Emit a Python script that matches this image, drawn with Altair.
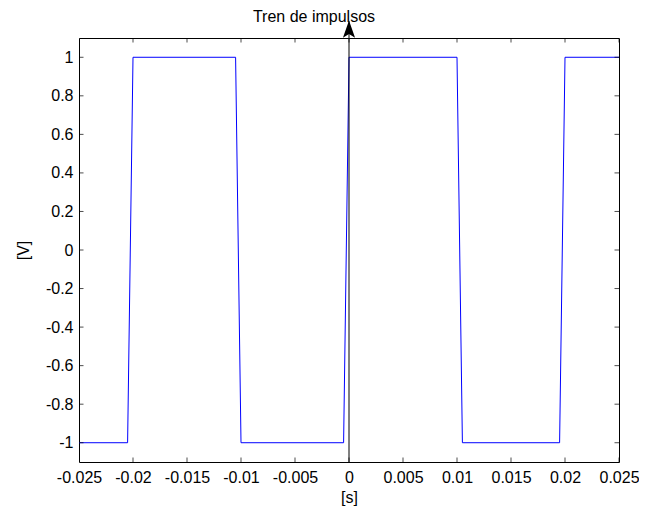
import altair as alt
import pandas as pd

# waveform samples
t_vals = [-0.025, -0.0205, -0.020, -0.0105, -0.010, -0.0005, 0.0, 0.010, 0.0105, 0.0195, 0.020, 0.025]
v_vals = [-1, -1, 1, 1, -1, -1, 1, 1, -1, -1, 1, 1]

x_ticks = [-0.025, -0.02, -0.015, -0.01, -0.005, 0, 0.005, 0.01, 0.015, 0.02, 0.025]
y_ticks = [-1, -0.8, -0.6, -0.4, -0.2, 0, 0.2, 0.4, 0.6, 0.8, 1]

x_dom = [-0.025, 0.025]
y_dom = [-1.1, 1.1]
arrow_tip = 1.187
arrow_mid = 1.146

FONT = "Liberation Sans"
FS = 16

df = pd.DataFrame({"t": t_vals, "v": v_vals})
df_xt = pd.DataFrame({"t": x_ticks})
df_yt = pd.DataFrame({"v": y_ticks})
df_one = pd.DataFrame({"a": [0]})

xs = alt.Scale(domain=x_dom, nice=False, zero=False)
ys = alt.Scale(domain=y_dom, nice=False, zero=False)

label_expr = "'' + datum.value"
common_axis = dict(labelExpr=label_expr, domain=False, ticks=False, grid=False,
                   labelFontSize=FS, titleFontSize=FS, titleFontWeight="normal", labelFont=FONT,
                   titleFont=FONT, labelColor="black", titleColor="black", labelFlush=False,
                   labelOverlap=False)
x_axis = alt.Axis(values=x_ticks, labelPadding=7, titlePadding=4, **common_axis)
y_axis = alt.Axis(values=y_ticks, labelPadding=6, titlePadding=14, **common_axis)
XT = "[s]"
YT = "[V]"

line = alt.Chart(df).mark_line(color="#0000ff", strokeWidth=1, clip=True).encode(
    x=alt.X("t:Q", scale=xs, axis=x_axis, title=XT),
    y=alt.Y("v:Q", scale=ys, axis=y_axis, title=YT),
)

tick_style = dict(thickness=1, color="black", clip=True, size=9)
xt_bottom = alt.Chart(df_xt).mark_tick(orient="vertical", **tick_style).encode(
    x=alt.X("t:Q", scale=xs, axis=x_axis, title=XT),
    y=alt.YDatum(y_dom[0], scale=ys, axis=y_axis, title=YT))
xt_top = alt.Chart(df_xt).mark_tick(orient="vertical", **tick_style).encode(
    x=alt.X("t:Q", scale=xs, axis=x_axis, title=XT),
    y=alt.YDatum(y_dom[1], scale=ys, axis=y_axis, title=YT))
yt_left = alt.Chart(df_yt).mark_tick(orient="horizontal", **tick_style).encode(
    y=alt.Y("v:Q", scale=ys, axis=y_axis, title=YT),
    x=alt.XDatum(x_dom[0], scale=xs, axis=x_axis, title=XT))
yt_right = alt.Chart(df_yt).mark_tick(orient="horizontal", **tick_style).encode(
    y=alt.Y("v:Q", scale=ys, axis=y_axis, title=YT),
    x=alt.XDatum(x_dom[1], scale=xs, axis=x_axis, title=XT))

zero_line = alt.Chart(df_one).mark_rule(color="black", strokeWidth=1, clip=False).encode(
    x=alt.XDatum(0, scale=xs, axis=x_axis, title=XT),
    y=alt.YDatum(y_dom[0], scale=ys, axis=y_axis, title=YT),
    y2=alt.Y2Datum(arrow_tip))

arrow_path = "M0,-1 L0.7,1 L0,0.55 L-0.7,1 Z"
arrow = alt.Chart(df_one).mark_point(
    shape=arrow_path, filled=True, color="black", opacity=1, size=300, strokeWidth=0, clip=False
).encode(x=alt.XDatum(0, scale=xs, axis=x_axis, title=XT),
         y=alt.YDatum(arrow_mid, scale=ys, axis=y_axis, title=YT))

chart = alt.layer(line, xt_bottom, xt_top, yt_left, yt_right, zero_line, arrow).properties(
    width=540, height=424,
    autosize="none",
    background="white",
    padding={"left": 71, "top": 30, "right": 20, "bottom": 47},
    title=alt.Title("Tren de impulsos", fontSize=FS, fontWeight="normal", font=FONT,
                    color="black", anchor="middle", dx=-35, offset=-5, frame="group"),
).configure_view(stroke="black", strokeWidth=1)

chart.save("out.html", embed_options={"renderer": "svg", "actions": False})
